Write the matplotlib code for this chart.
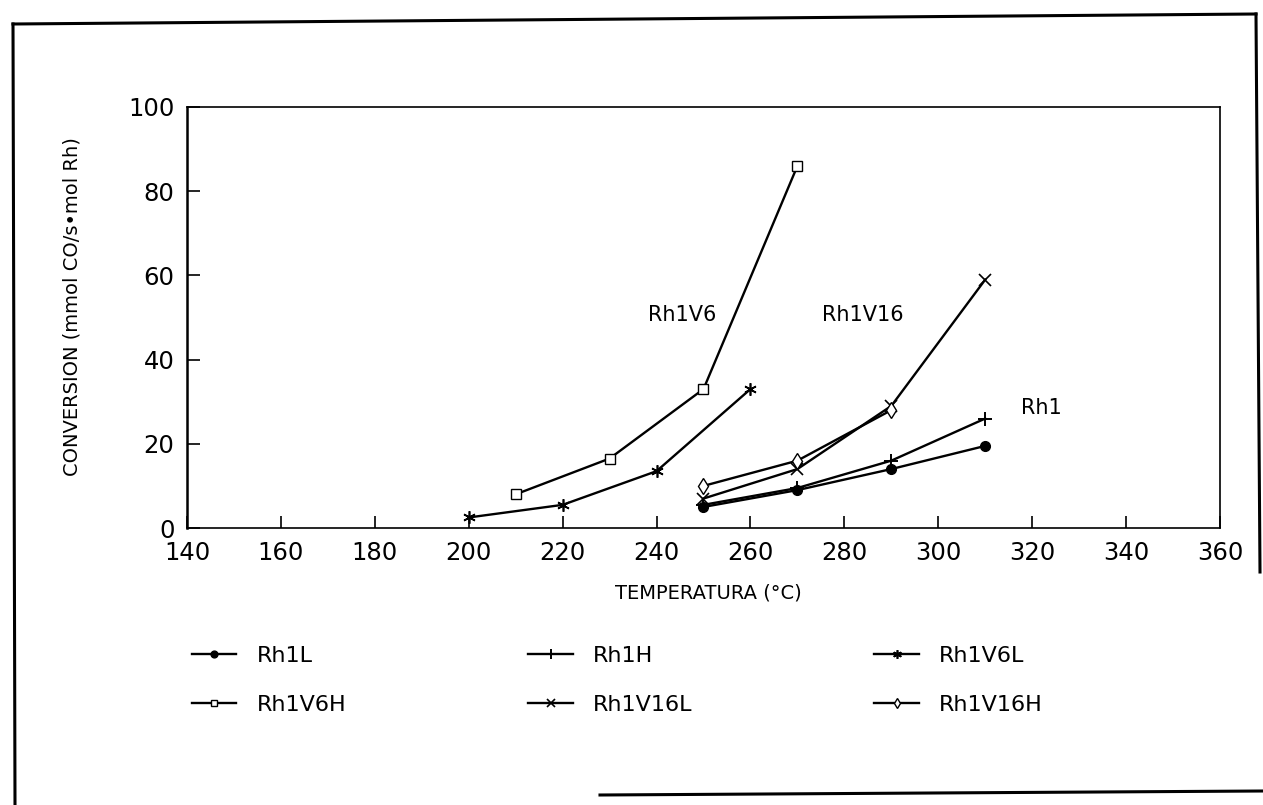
import matplotlib
matplotlib.use("Agg")
import matplotlib.pyplot as plt
from matplotlib.lines import Line2D

# CO conversion vs. temperature for the Rh / Rh-V catalysts
temp_rh1 = [250, 270, 290, 310]
rh1l = [5, 9, 14, 19.5]
rh1h = [5.5, 9.5, 16, 26]

temp_v6l = [200, 220, 240, 260]
rh1v6l = [2.5, 5.5, 13.5, 33]

temp_v6h = [210, 230, 250, 270]
rh1v6h = [8, 16.5, 33, 86]

temp_v16l = [250, 270, 290, 310]
rh1v16l = [7, 14, 29, 59]

temp_v16h = [250, 270, 290]
rh1v16h = [10, 16, 28]

x_ticks = list(range(140, 361, 20))
y_ticks = [0, 20, 40, 60, 80, 100]

W, H = 1263, 805


def px(x, y):
    # pixel position (from top-left) -> figure fraction
    return x / W, 1 - y / H


fig = plt.figure(figsize=(W / 100, H / 100), dpi=100)
ax = fig.add_axes([187 / W, 1 - 528 / H, (1220 - 187) / W, 421 / H])

asterisk = (6, 2, 0)
series = [
    ("Rh1L", temp_rh1, rh1l, dict(marker="o", ms=7, mfc="black")),
    ("Rh1V6H", temp_v6h, rh1v6h, dict(marker="s", ms=7, mfc="white")),
    ("Rh1H", temp_rh1, rh1h, dict(marker="+", ms=10, mew=1.4)),
    ("Rh1V16L", temp_v16l, rh1v16l, dict(marker="x", ms=8, mew=1.2)),
    ("Rh1V6L", temp_v6l, rh1v6l, dict(marker=asterisk, ms=9, mew=1.2)),
    ("Rh1V16H", temp_v16h, rh1v16h, dict(marker="d", ms=8, mfc="white")),
]
for name, x, y, style in series:
    ax.plot(x, y, color="black", lw=1.7, mec="black", label=name, **style)

ax.set_xlim(140, 360)
ax.set_ylim(0, 100)
ax.set_xticks(x_ticks)
ax.set_yticks(y_ticks)
ax.tick_params(direction="in", length=9, width=1.2, labelsize=17.5, pad=9)
for sp in ax.spines.values():
    sp.set_linewidth(1.2)
ax.spines["left"].set_linewidth(1.8)

ax.set_xlabel("TEMPERATURA (°C)", fontsize=14)
ax.xaxis.set_label_coords(0.505, -0.133)
ax.set_ylabel("CONVERSION (mmol CO/s•mol Rh)", fontsize=14)
ax.yaxis.set_label_coords(-0.102, 0.525)

ax.text(245.5, 50.5, "Rh1V6", fontsize=15, ha="center", va="center")
ax.text(284, 50.5, "Rh1V16", fontsize=15, ha="center", va="center")
ax.text(322, 28.5, "Rh1", fontsize=15, ha="center", va="center")

fig.legend(
    loc="upper left",
    bbox_to_anchor=px(192, 646),
    ncol=3,
    frameon=False,
    fontsize=16,
    handlelength=2.0,
    handletextpad=0.9,
    columnspacing=8.2,
    labelspacing=1.3,
    borderpad=0,
    borderaxespad=0,
    markerscale=0.7,
)

# page border
frame = [
    ((13, 24), (1256, 14)),
    ((13, 24), (15, 805)),
    ((1256, 14), (1260, 572)),
    ((600, 795), (1263, 791)),
]
for (x0, y0), (x1, y1) in frame:
    a, b = px(x0, y0)
    c, d = px(x1, y1)
    fig.add_artist(Line2D([a, c], [b, d], transform=fig.transFigure,
                          color="black", lw=2.2))

fig.savefig("out.png", dpi=100)
